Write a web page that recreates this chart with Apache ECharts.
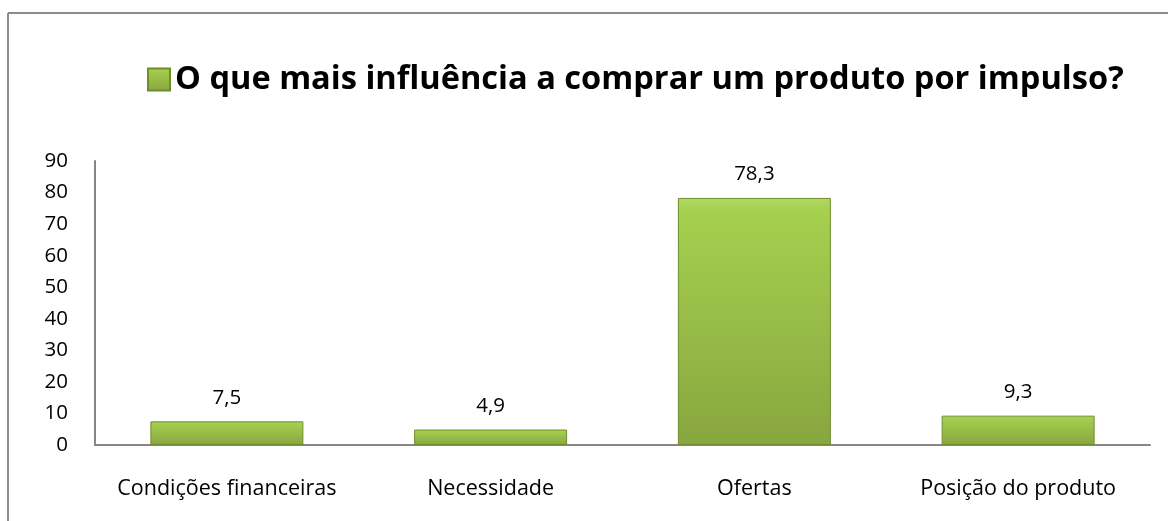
<!DOCTYPE html>
<html><head><meta charset="utf-8">
<script src="https://cdn.jsdelivr.net/npm/echarts@6/dist/echarts.min.js"></script>
<style>html,body{margin:0;padding:0;background:#fff}#c{width:1168px;height:521px}</style>
</head><body><div id="c"></div>
<script>
const categories = ['Condições financeiras', 'Necessidade', 'Ofertas', 'Posição do produto'];
const values = [7.5, 4.9, 78.3, 9.3];
const seriesName = 'O que mais influência a comprar um produto por impulso?';
const yTicks = {min: 0, max: 90, interval: 10};

const chart = echarts.init(document.getElementById('c'));
const font = '"Open Sans", "Noto Sans", sans-serif';
chart.setOption({
  animation: false,
  backgroundColor: '#fff',
  graphic: [
    {type: 'line', shape: {x1: 8, y1: 13, x2: 1168, y2: 13}, style: {stroke: '#8c8c8c', lineWidth: 2}},
    {type: 'line', shape: {x1: 8, y1: 13, x2: 8, y2: 521}, style: {stroke: '#8c8c8c', lineWidth: 2}}
  ],
  legend: {
    top: 58, left: 142,
    itemWidth: 22, itemHeight: 22, itemGap: 4,
    icon: 'rect',
    textStyle: {fontFamily: font, fontSize: 32.6, fontWeight: 'bold', color: '#000'},
    data: [seriesName]
  },
  grid: {left: 95, right: 18, top: 161, bottom: 76, containLabel: false},
  xAxis: {
    type: 'category', data: categories,
    axisLine: {lineStyle: {color: '#868686', width: 2}},
    axisTick: {show: false},
    axisLabel: {fontFamily: font, fontSize: 21.5, color: '#000', margin: 33, interval: 0}
  },
  yAxis: {
    type: 'value', min: yTicks.min, max: yTicks.max, interval: yTicks.interval,
    axisLine: {show: true, lineStyle: {color: '#868686', width: 2}},
    axisTick: {show: false},
    splitLine: {show: false},
    axisLabel: {fontFamily: font, fontSize: 20.5, color: '#000', margin: 27}
  },
  series: [{
    name: seriesName, type: 'bar', data: values, barWidth: '58%',
    itemStyle: {
      color: new echarts.graphic.LinearGradient(0, 0, 0, 1, [
        {offset: 0, color: '#b2d865'},
        {offset: 0.05, color: '#a6d04f'},
        {offset: 1, color: '#87a63f'}
      ]),
      borderColor: '#6f8c2e', borderWidth: 1
    },
    label: {
      show: true, position: 'top', distance: 13,
      fontFamily: font, fontSize: 20.5, color: '#000',
      formatter: p => String(p.value).replace('.', ',')
    }
  }]
});
</script></body></html>
